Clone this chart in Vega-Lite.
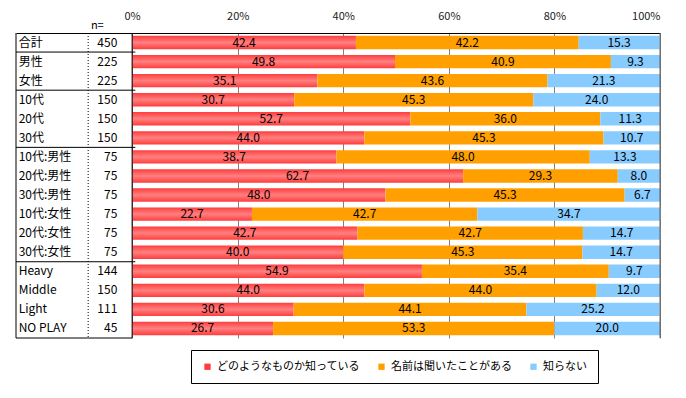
{
  "$schema": "https://vega.github.io/schema/vega-lite/v6.json",
  "width": 644,
  "height": 305,
  "autosize": {"type": "none"},
  "padding": {"left": 16, "top": 33, "right": 26, "bottom": 60},
  "config": {
    "view": {"stroke": null},
    "font": "Noto Sans CJK JP",
    "text": {"font": "Noto Sans CJK JP"}
  },
  "datasets": {
    "rows": [
      {"g": "合計", "n": 450, "s": "どのようなものか知っている", "o": 1, "v": 42.4},
      {"g": "合計", "n": 450, "s": "名前は聞いたことがある", "o": 2, "v": 42.2},
      {"g": "合計", "n": 450, "s": "知らない", "o": 3, "v": 15.3},
      {"g": "男性", "n": 225, "s": "どのようなものか知っている", "o": 1, "v": 49.8},
      {"g": "男性", "n": 225, "s": "名前は聞いたことがある", "o": 2, "v": 40.9},
      {"g": "男性", "n": 225, "s": "知らない", "o": 3, "v": 9.3},
      {"g": "女性", "n": 225, "s": "どのようなものか知っている", "o": 1, "v": 35.1},
      {"g": "女性", "n": 225, "s": "名前は聞いたことがある", "o": 2, "v": 43.6},
      {"g": "女性", "n": 225, "s": "知らない", "o": 3, "v": 21.3},
      {"g": "10代", "n": 150, "s": "どのようなものか知っている", "o": 1, "v": 30.7},
      {"g": "10代", "n": 150, "s": "名前は聞いたことがある", "o": 2, "v": 45.3},
      {"g": "10代", "n": 150, "s": "知らない", "o": 3, "v": 24.0},
      {"g": "20代", "n": 150, "s": "どのようなものか知っている", "o": 1, "v": 52.7},
      {"g": "20代", "n": 150, "s": "名前は聞いたことがある", "o": 2, "v": 36.0},
      {"g": "20代", "n": 150, "s": "知らない", "o": 3, "v": 11.3},
      {"g": "30代", "n": 150, "s": "どのようなものか知っている", "o": 1, "v": 44.0},
      {"g": "30代", "n": 150, "s": "名前は聞いたことがある", "o": 2, "v": 45.3},
      {"g": "30代", "n": 150, "s": "知らない", "o": 3, "v": 10.7},
      {"g": "10代:男性", "n": 75, "s": "どのようなものか知っている", "o": 1, "v": 38.7},
      {"g": "10代:男性", "n": 75, "s": "名前は聞いたことがある", "o": 2, "v": 48.0},
      {"g": "10代:男性", "n": 75, "s": "知らない", "o": 3, "v": 13.3},
      {"g": "20代:男性", "n": 75, "s": "どのようなものか知っている", "o": 1, "v": 62.7},
      {"g": "20代:男性", "n": 75, "s": "名前は聞いたことがある", "o": 2, "v": 29.3},
      {"g": "20代:男性", "n": 75, "s": "知らない", "o": 3, "v": 8.0},
      {"g": "30代:男性", "n": 75, "s": "どのようなものか知っている", "o": 1, "v": 48.0},
      {"g": "30代:男性", "n": 75, "s": "名前は聞いたことがある", "o": 2, "v": 45.3},
      {"g": "30代:男性", "n": 75, "s": "知らない", "o": 3, "v": 6.7},
      {"g": "10代:女性", "n": 75, "s": "どのようなものか知っている", "o": 1, "v": 22.7},
      {"g": "10代:女性", "n": 75, "s": "名前は聞いたことがある", "o": 2, "v": 42.7},
      {"g": "10代:女性", "n": 75, "s": "知らない", "o": 3, "v": 34.7},
      {"g": "20代:女性", "n": 75, "s": "どのようなものか知っている", "o": 1, "v": 42.7},
      {"g": "20代:女性", "n": 75, "s": "名前は聞いたことがある", "o": 2, "v": 42.7},
      {"g": "20代:女性", "n": 75, "s": "知らない", "o": 3, "v": 14.7},
      {"g": "30代:女性", "n": 75, "s": "どのようなものか知っている", "o": 1, "v": 40.0},
      {"g": "30代:女性", "n": 75, "s": "名前は聞いたことがある", "o": 2, "v": 45.3},
      {"g": "30代:女性", "n": 75, "s": "知らない", "o": 3, "v": 14.7},
      {"g": "Heavy", "n": 144, "s": "どのようなものか知っている", "o": 1, "v": 54.9},
      {"g": "Heavy", "n": 144, "s": "名前は聞いたことがある", "o": 2, "v": 35.4},
      {"g": "Heavy", "n": 144, "s": "知らない", "o": 3, "v": 9.7},
      {"g": "Middle", "n": 150, "s": "どのようなものか知っている", "o": 1, "v": 44.0},
      {"g": "Middle", "n": 150, "s": "名前は聞いたことがある", "o": 2, "v": 44.0},
      {"g": "Middle", "n": 150, "s": "知らない", "o": 3, "v": 12.0},
      {"g": "Light", "n": 111, "s": "どのようなものか知っている", "o": 1, "v": 30.6},
      {"g": "Light", "n": 111, "s": "名前は聞いたことがある", "o": 2, "v": 44.1},
      {"g": "Light", "n": 111, "s": "知らない", "o": 3, "v": 25.2},
      {"g": "NO PLAY", "n": 45, "s": "どのようなものか知っている", "o": 1, "v": 26.7},
      {"g": "NO PLAY", "n": 45, "s": "名前は聞いたことがある", "o": 2, "v": 53.3},
      {"g": "NO PLAY", "n": 45, "s": "知らない", "o": 3, "v": 20.0}
    ]
  },
  "layer": [
    {
      "data": {"name": "rows"},
      "transform": [
        {"stack": "v", "groupby": ["g"], "sort": [{"field": "o"}], "as": ["x0", "x1"]}
      ],
      "mark": {"type": "bar"},
      "encoding": {
        "y": {
          "field": "g",
          "type": "nominal",
          "sort": null,
          "axis": null,
          "scale": {"paddingInner": 0.3, "paddingOuter": 0.15}
        },
        "x": {
          "field": "x0",
          "type": "quantitative",
          "scale": {"domain": [-22, 100], "nice": false, "zero": false},
          "axis": {
            "orient": "top",
            "values": [0, 20, 40, 60, 80, 100],
            "labelExpr": "datum.value + '%'",
            "title": null,
            "ticks": false,
            "domainColor": "#000000",
            "domainWidth": 1,
            "grid": true,
            "gridColor": "#808080",
            "gridWidth": 1,
            "labelFontSize": 11,
            "labelColor": "#222222",
            "labelPadding": 12,
            "labelFont": "Noto Sans CJK JP"
          }
        },
        "x2": {"field": "x1"},
        "color": {
          "field": "s",
          "type": "nominal",
          "sort": null,
          "scale": {
            "domain": ["どのようなものか知っている", "名前は聞いたことがある", "知らない"],
            "range": ["#FF3D3D", "#FFA000", "#88CCFF"]
          },
          "legend": {
            "orient": "none",
            "legendX": 175,
            "legendY": 317,
            "direction": "horizontal",
            "title": null,
            "strokeColor": "#000000",
            "padding": 11,
            "symbolType": "square",
            "symbolSize": 40,
            "symbolStrokeWidth": 0,
            "labelFontSize": 11,
            "labelFont": "Noto Sans CJK JP",
            "labelColor": "#000000",
            "columnPadding": 16,
            "labelLimit": 0
          }
        }
      }
    },
    {
      "data": {"name": "rows"},
      "transform": [
        {"stack": "v", "groupby": ["g"], "sort": [{"field": "o"}], "as": ["x0", "x1"]},
        {"filter": "datum.o == 1"}
      ],
      "mark": {
        "type": "bar",
        "fill": {
          "gradient": "linear",
          "x1": 0, "y1": 0, "x2": 0, "y2": 1,
          "stops": [
            {"offset": 0, "color": "rgba(255,255,255,0)"},
            {"offset": 0.5, "color": "rgba(255,255,255,0.35)"},
            {"offset": 1, "color": "rgba(255,255,255,0)"}
          ]
        }
      },
      "encoding": {
        "y": {"field": "g", "type": "nominal", "sort": null},
        "x": {"field": "x0", "type": "quantitative"},
        "x2": {"field": "x1"}
      }
    },
    {
      "data": {"name": "rows"},
      "transform": [
        {"stack": "v", "groupby": ["g"], "sort": [{"field": "o"}], "as": ["x0", "x1"]},
        {"calculate": "(datum.x0 + datum.x1) / 2", "as": "mid"}
      ],
      "mark": {"type": "text", "fontSize": 12, "color": "#000000", "align": "center", "baseline": "middle"},
      "encoding": {
        "y": {"field": "g", "type": "nominal", "sort": null},
        "x": {"field": "mid", "type": "quantitative"},
        "text": {"field": "v", "type": "quantitative", "format": ".1f"}
      }
    },
    {
      "data": {"name": "rows"},
      "transform": [{"filter": "datum.o == 1"}],
      "mark": {"type": "text", "fontSize": 12, "color": "#000000", "align": "left", "baseline": "middle"},
      "encoding": {
        "y": {"field": "g", "type": "nominal", "sort": null},
        "x": {"datum": -21.5},
        "text": {"field": "g"}
      }
    },
    {
      "data": {"name": "rows"},
      "transform": [{"filter": "datum.o == 1"}],
      "mark": {"type": "text", "fontSize": 12, "color": "#000000", "align": "right", "baseline": "middle"},
      "encoding": {
        "y": {"field": "g", "type": "nominal", "sort": null},
        "x": {"datum": -2.8},
        "text": {"field": "n"}
      }
    },
    {
      "data": {"values": [{"g": "合計", "t": "n="}]},
      "mark": {"type": "text", "fontSize": 11, "color": "#000000", "align": "center", "baseline": "bottom", "dy": -2},
      "encoding": {
        "x": {"datum": -6.6},
        "y": {"field": "g", "type": "nominal", "sort": null, "bandPosition": -0.2143},
        "text": {"field": "t"}
      }
    },
    {
      "data": {"values": [{"k": 1}]},
      "mark": {"type": "rule", "color": "#000000", "strokeDash": [1, 2], "strokeWidth": 1},
      "encoding": {"x": {"datum": -8.33}}
    },
    {
      "data": {"values": [{"bx": -22}, {"bx": 0}]},
      "mark": {"type": "rule", "color": "#000000", "strokeWidth": 1},
      "encoding": {"x": {"field": "bx", "type": "quantitative"}}
    },
    {
      "data": {"values": [{"bx": 100}]},
      "mark": {"type": "rule", "color": "#606060", "strokeWidth": 1},
      "encoding": {"x": {"field": "bx", "type": "quantitative"}}
    },
    {
      "data": {"values": [{"g": "男性"}, {"g": "10代"}, {"g": "10代:男性"}, {"g": "Heavy"}]},
      "mark": {"type": "rule", "color": "#000000", "strokeWidth": 1},
      "encoding": {
        "y": {"field": "g", "type": "nominal", "sort": null, "bandPosition": -0.2143},
        "x": {"datum": -22},
        "x2": {"datum": 0.6}
      }
    },
    {
      "data": {"values": [{"g": "NO PLAY"}]},
      "mark": {"type": "rule", "color": "#000000", "strokeWidth": 1},
      "encoding": {
        "y": {"field": "g", "type": "nominal", "sort": null, "bandPosition": 1.2143},
        "x": {"datum": -22},
        "x2": {"datum": 0}
      }
    }
  ]
}
